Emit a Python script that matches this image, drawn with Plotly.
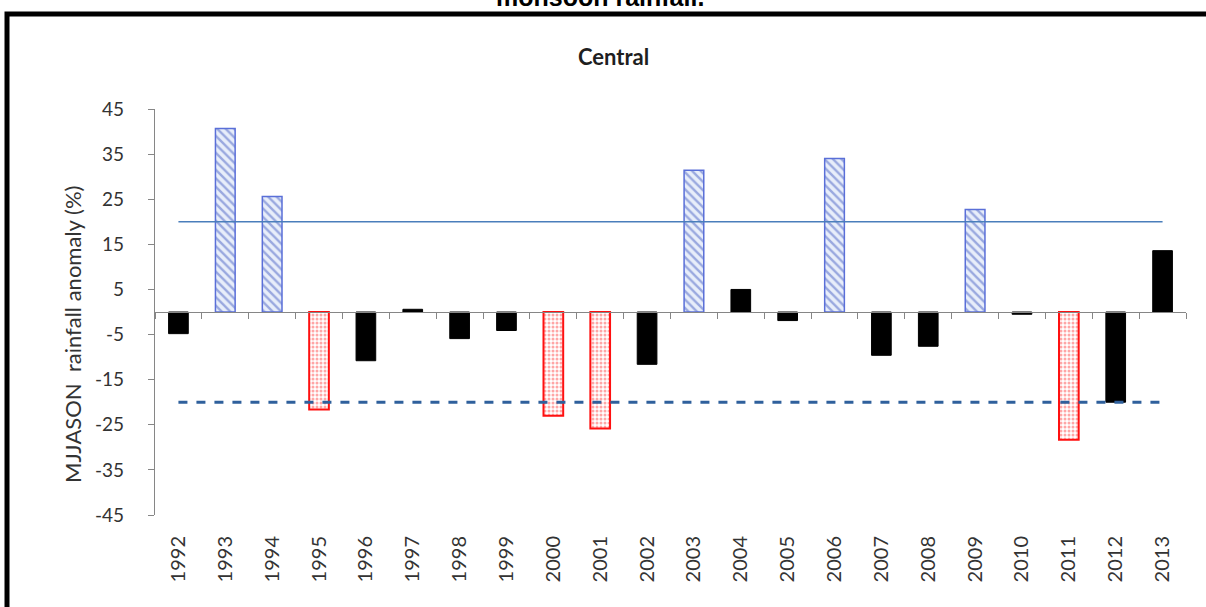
import plotly.graph_objects as go

# ---------------- data ----------------
years = [str(y) for y in range(1992, 2014)]
anomaly = [-4.8, 40.7, 25.6, -21.6, -10.8, 0.6, -5.9, -4.1, -23.0, -25.8, -11.6,
           31.4, 5.0, -1.9, 34.0, -9.6, -7.6, 22.7, -0.5, -28.3, -20.0, 13.6]
wet_years = ["1993", "1994", "2003", "2006", "2009"]
dry_years = ["1995", "2000", "2001", "2011"]
upper_threshold = 20
lower_threshold = -20
y_ticks = [45, 35, 25, 15, 5, -5, -15, -25, -35, -45]
y_tick_labels = ["45", "35", "25", "15", "5", "-5", "-15", "-25", "-35", "-45"]
y_title = "MJJASON  rainfall anomaly (%)"
panel_title = "Central"
top_caption = "monsoon rainfall."

# split into the three bar styles
def pick(group):
    xs, ys = [], []
    for yr, v in zip(years, anomaly):
        if group(yr):
            xs.append(yr)
            ys.append(v)
    return xs, ys

wx, wy = pick(lambda yr: yr in wet_years)
dx, dy = pick(lambda yr: yr in dry_years)
nx, ny = pick(lambda yr: yr not in wet_years and yr not in dry_years)

BW = 0.42
fig = go.Figure()
fig.add_trace(go.Bar(
    x=nx, y=ny, width=BW, marker=dict(color="#000000", line=dict(color="#000000", width=1)),
    showlegend=False))
fig.add_trace(go.Bar(
    x=wx, y=wy, width=BW,
    marker=dict(color="#e8eefa",
                pattern=dict(shape="\\", fgcolor="#4a62c4", size=6, solidity=0.4),
                line=dict(color="#5a6fd8", width=1.5)),
    showlegend=False))
fig.add_trace(go.Bar(
    x=dx, y=dy, width=BW,
    marker=dict(color="#ffffff",
                pattern=dict(shape=".", fgcolor="#ff4d4d", size=4, solidity=0.45),
                line=dict(color="#ff1010", width=2)),
    showlegend=False))

# threshold lines (drawn on the overlaid axis that sits at y = 0)
fig.add_trace(go.Scatter(
    x=years, y=[upper_threshold] * len(years), mode="lines", xaxis="x2",
    line=dict(color="#4a7ebb", width=1.5), showlegend=False, hoverinfo="skip"))
fig.add_trace(go.Scatter(
    x=years, y=[lower_threshold] * len(years), mode="lines", xaxis="x2",
    line=dict(color="#2f609c", width=3, dash="dash"), showlegend=False, hoverinfo="skip"))

W, H = 1206, 607
# plot area in screenshot pixels: x 155..1186, y 109..515
PL, PR, PT, PB = 155, 1186, 109, 515
L, R, T, B = PL, W - PR, PT, H - PB
pw = PR - PL
ph = PB - PT

def px_x(p):
    return (p - PL) / pw

def px_y(p):
    return (PB - p) / ph

fig.update_layout(
    width=W, height=H,
    margin=dict(l=L, r=R, t=T, b=B, autoexpand=False),
    paper_bgcolor="white", plot_bgcolor="white",
    barmode="overlay",
    font=dict(family="Lato, Open Sans, sans-serif", color="#333333"),
    xaxis=dict(
        type="category", categoryorder="array", categoryarray=years,
        range=[-0.5, len(years) - 0.5],
        showline=False, showgrid=False, zeroline=False, ticks="",
        tickangle=-90, tickfont=dict(size=20, color="#333333"),
        ticklabelstandoff=16,
    ),
    xaxis2=dict(
        type="category", categoryorder="array", categoryarray=years,
        range=[-0.5, len(years) - 0.5],
        overlaying="x", anchor="free", position=0.5,
        showline=True, linecolor="#868686", linewidth=1.2,
        ticks="outside", tickson="boundaries", ticklen=6, tickcolor="#868686",
        showticklabels=False, showgrid=False, zeroline=False,
    ),
    yaxis=dict(
        range=[-45, 45], tickmode="array", tickvals=y_ticks, ticktext=y_tick_labels,
        showline=True, linecolor="#868686", linewidth=1.2,
        ticks="outside", ticklen=6, tickcolor="#868686",
        showgrid=False, zeroline=False,
        tickfont=dict(size=19, color="#333333"), ticklabelstandoff=20,
    ),
    shapes=[dict(type="rect", xref="paper", yref="paper",
                 x0=px_x(7), x1=px_x(1300), y0=px_y(700), y1=px_y(14),
                 line=dict(color="black", width=5), fillcolor="rgba(0,0,0,0)",
                 layer="above")],
    annotations=[
        dict(text=top_caption, xref="paper", yref="paper", x=px_x(600), y=px_y(13),
             xanchor="center", yanchor="bottom", showarrow=False,
             font=dict(family="Liberation Sans, Arial", size=25, color="black", weight="bold")),
        dict(text=panel_title, xref="paper", yref="paper", x=px_x(613), y=px_y(57),
             xanchor="center", yanchor="middle", showarrow=False,
             font=dict(size=22, color="#1f1f1f", weight="bold")),
        dict(text=y_title, xref="paper", yref="paper", x=px_x(72), y=px_y(335),
             xanchor="center", yanchor="middle", showarrow=False, textangle=-90,
             font=dict(size=22, color="#333333")),
    ],
)

# remove the browser's default page margin so the figure sits at the window corner
fig.write_html("out.html", config={"displayModeBar": False},
               post_script="document.body.style.margin='0';document.body.style.overflow='hidden';")
